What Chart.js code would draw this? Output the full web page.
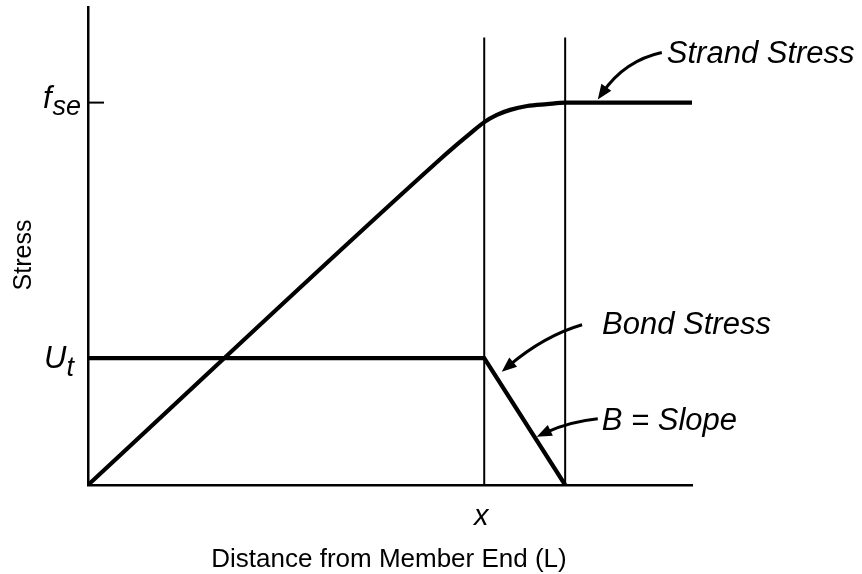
<!DOCTYPE html>
<html>
<head>
<meta charset="utf-8">
<script src="https://cdn.jsdelivr.net/npm/chart.js@4/dist/chart.umd.min.js"></script>
<style>
  html, body { margin: 0; padding: 0; background: #fff; }
  canvas { display: block; }
</style>
</head>
<body>
<canvas id="bond-chart" width="862" height="574"></canvas>
<script>
(function() {
  'use strict';

  var BLACK = '#000000';
  var FONT = "'Liberation Sans', Arial, sans-serif";

  // distance along the member (0..100 = plotted length), stress (fse = 100)
  var strandX = [0, 58.3, 60.4, 63.2, 65.6, 67.7, 69.9, 72.7, 76.0, 79.0, 100];
  var strandY = [0, 85.2, 88.1, 91.8, 94.9, 96.8, 98.1, 99.1, 99.6, 100, 100];
  var bondX = [0, 65.6, 79.0];
  var bondY = [33.2, 33.2, 0];
  var markX = [65.6, 79.0];   // x and end of transfer zone
  var markTop = 117;
  var FSE = 100;
  var UT = 33.2;
  var X_MAX = 100;
  var Y_MAX = 125;

  // callouts: start of leader, control point, arrow tip (data units)
  var calloutText = ['Strand Stress', 'Bond Stress', 'B = Slope'];
  var calloutFrom = [[95.0, 113.1], [81.8, 41.9], [84.4, 17.3]];
  var calloutCtrl = [[88.9, 111.0], [75.5, 39.0], [79.5, 16.5]];
  var calloutTo   = [[84.4, 100.8], [68.5, 29.6], [74.3, 12.6]];
  var calloutOffset = [[5, 10], [20, 9], [4, 11]];

  function pts(xs, ys) {
    return xs.map(function(x, i) { return { x: x, y: ys[i] }; });
  }

  function lineSet(data, width, extra) {
    var ds = {
      data: data,
      borderColor: BLACK,
      borderWidth: width,
      pointRadius: 0,
      fill: false,
      tension: 0
    };
    for (var k in extra) ds[k] = extra[k];
    return ds;
  }

  var datasets = [
    lineSet(pts([markX[0], markX[0]], [0, markTop]), 2, {}),
    lineSet(pts([markX[1], markX[1]], [0, markTop]), 2, {}),
    lineSet(pts(strandX, strandY), 4.2, { cubicInterpolationMode: 'monotone' }),
    lineSet(pts(bondX, bondY), 4.2, { borderJoinStyle: 'miter' })
  ];

  function arrowHead(ctx, tip, from, len, half) {
    var a = Math.atan2(tip[1] - from[1], tip[0] - from[0]);
    ctx.beginPath();
    ctx.moveTo(tip[0], tip[1]);
    ctx.lineTo(tip[0] - len * Math.cos(a) + half * Math.sin(a), tip[1] - len * Math.sin(a) - half * Math.cos(a));
    ctx.lineTo(tip[0] - len * Math.cos(a) - half * Math.sin(a), tip[1] - len * Math.sin(a) + half * Math.cos(a));
    ctx.closePath();
    ctx.fill();
  }

  var labelsPlugin = {
    id: 'labels',
    beforeDraw: function(chart) {
      var ctx = chart.ctx;
      ctx.save();
      ctx.fillStyle = '#fff';
      ctx.fillRect(0, 0, chart.width, chart.height);
      ctx.restore();
    },
    afterDraw: function(chart) {
      var ctx = chart.ctx;
      var xs = chart.scales.x, ys = chart.scales.y;
      var area = chart.chartArea;
      ctx.save();
      ctx.fillStyle = BLACK;
      ctx.strokeStyle = BLACK;

      // fse tick
      var yF = ys.getPixelForValue(FSE);
      ctx.lineWidth = 2;
      ctx.beginPath();
      ctx.moveTo(area.left - 1, yF);
      ctx.lineTo(area.left + 16, yF);
      ctx.stroke();

      // f_se
      ctx.textBaseline = 'alphabetic';
      ctx.textAlign = 'left';
      ctx.font = 'italic 31px ' + FONT;
      ctx.fillText('f', 43, yF + 5);
      var fw = ctx.measureText('f').width;
      ctx.font = 'italic 27px ' + FONT;
      ctx.fillText('se', 43 + fw + 1, yF + 12);

      // U_t
      var yU = ys.getPixelForValue(UT);
      ctx.font = 'italic 31px ' + FONT;
      ctx.fillText('U', 44, yU + 10);
      var uw = ctx.measureText('U').width;
      ctx.font = 'italic 27px ' + FONT;
      ctx.fillText('t', 44 + uw, yU + 18);

      // x under the first marker line
      ctx.textAlign = 'center';
      ctx.font = 'italic 29px ' + FONT;
      ctx.fillText('x', xs.getPixelForValue(markX[0]) - 3, area.bottom + 40);

      // axis titles
      ctx.font = '26px ' + FONT;
      ctx.fillText('Distance from Member End (L)', 389, 567);
      ctx.save();
      ctx.translate(24, 255);
      ctx.rotate(-Math.PI / 2);
      ctx.textBaseline = 'middle';
      ctx.font = '25px ' + FONT;
      ctx.fillText('Stress', 0, 0);
      ctx.restore();

      // callouts with curved arrows
      ctx.lineWidth = 3;
      ctx.textAlign = 'left';
      ctx.textBaseline = 'alphabetic';
      ctx.font = 'italic 31px ' + FONT;
      for (var i = 0; i < calloutText.length; i++) {
        var s = [xs.getPixelForValue(calloutFrom[i][0]), ys.getPixelForValue(calloutFrom[i][1])];
        var c = [xs.getPixelForValue(calloutCtrl[i][0]), ys.getPixelForValue(calloutCtrl[i][1])];
        var t = [xs.getPixelForValue(calloutTo[i][0]), ys.getPixelForValue(calloutTo[i][1])];
        // stop the shaft short of the tip so the head stays sharp
        var a = Math.atan2(t[1] - c[1], t[0] - c[0]);
        var e = [t[0] - 9 * Math.cos(a), t[1] - 9 * Math.sin(a)];
        ctx.beginPath();
        ctx.moveTo(s[0], s[1]);
        ctx.quadraticCurveTo(c[0], c[1], e[0], e[1]);
        ctx.stroke();
        arrowHead(ctx, t, c, 15, 6);
        ctx.fillText(calloutText[i], s[0] + calloutOffset[i][0], s[1] + calloutOffset[i][1]);
      }
      ctx.restore();
    }
  };

  var axisBase = {
    display: true,
    grid: { display: false, drawTicks: false },
    ticks: { display: false },
    border: { display: true, color: BLACK, width: 2.5 },
    title: { display: false }
  };

  new Chart(document.getElementById('bond-chart'), {
    type: 'line',
    data: { datasets: datasets },
    options: {
      responsive: false,
      animation: false,
      devicePixelRatio: 1,
      layout: { padding: { left: 88, right: 170, top: 7, bottom: 89 } },
      plugins: {
        legend: { display: false },
        tooltip: { enabled: false }
      },
      scales: {
        x: Object.assign({ type: 'linear', min: 0, max: X_MAX }, axisBase),
        y: Object.assign({ type: 'linear', min: 0, max: Y_MAX }, axisBase)
      }
    },
    plugins: [labelsPlugin]
  });
})();
</script>
</body>
</html>
